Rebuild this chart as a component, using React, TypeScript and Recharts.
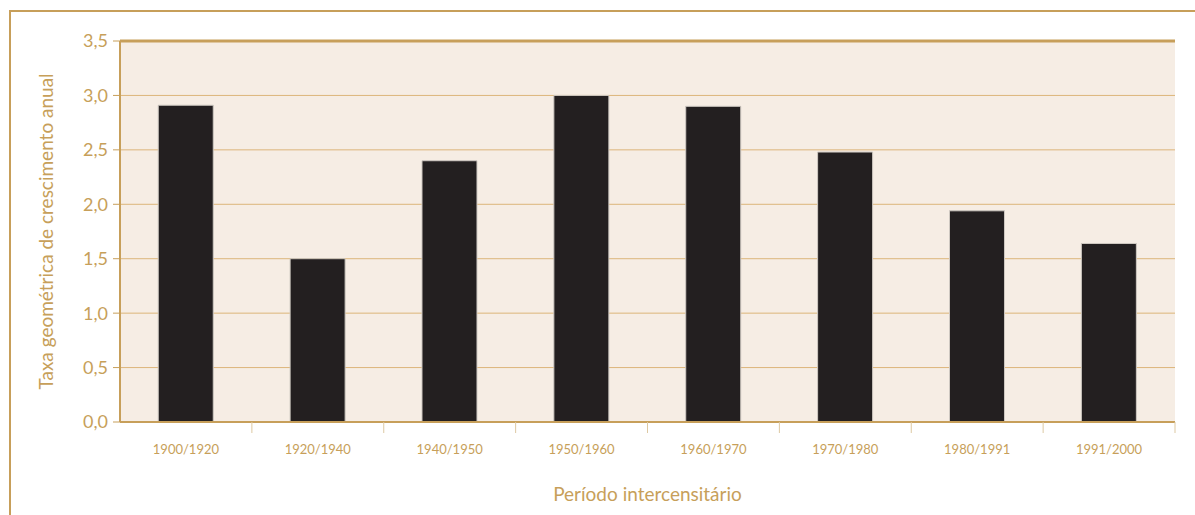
import { BarChart, Bar, XAxis, YAxis, CartesianGrid, ReferenceLine } from 'recharts'

const periods = ['1900/1920', '1920/1940', '1940/1950', '1950/1960', '1960/1970', '1970/1980', '1980/1991', '1991/2000']
const growthRates = [2.91, 1.5, 2.4, 3.0, 2.9, 2.48, 1.94, 1.64]
const yTicks = [0, 0.5, 1, 1.5, 2, 2.5, 3, 3.5]

const GOLD = '#c79f5a'
const GRID = '#dcb57a'
const FONT = 'Lato, "Open Sans", sans-serif'

const W = 1195
const H = 515
const PLOT_LEFT = 120
const PLOT_RIGHT = 20

const data = periods.map((p, i) => ({ period: p, rate: growthRates[i] }))

const fmt = (v: number) => v.toFixed(1).replace('.', ',')

// category label at the band centre, tick mark on the band boundary
function PeriodTick(props: any) {
  const { x, y, payload } = props
  const half = payload?.offset || (W - PLOT_LEFT - PLOT_RIGHT) / periods.length / 2
  return (
    <g>
      <line x1={x + half} x2={x + half} y1={y - 8} y2={y + 3} stroke="#ddc9a3" strokeWidth={1} />
      <text x={x} y={y + 24} textAnchor="middle" fill={GOLD} fontSize={13} fontFamily={FONT}>
        {payload.value}
      </text>
    </g>
  )
}

export default function App() {
  return (
    <div style={{ position: 'absolute', left: 0, top: 0, width: W, height: H, background: '#fff' }}>
      <div style={{ position: 'absolute', left: 10, top: 10, width: W - 10, height: 2, background: GOLD }} />
      <div style={{ position: 'absolute', left: 9, top: 10, width: 2, height: H - 10, background: GOLD }} />
      <div style={{ position: 'absolute', left: 0, top: 0 }}>
        <BarChart
          width={W}
          height={H}
          data={data}
          margin={{ top: 41, right: PLOT_RIGHT, bottom: 0, left: 0 }}
          barCategoryGap="29%"
        >
          <CartesianGrid vertical={false} stroke={GRID} fill="#f6ede4" />
          <XAxis
            dataKey="period"
            height={93}
            axisLine={{ stroke: GOLD, strokeWidth: 2 }}
            tickLine={false}
            tick={<PeriodTick />}
            interval={0}
            label={{
              value: 'Período intercensitário',
              position: 'insideBottom',
              offset: 14,
              fill: GOLD,
              fontSize: 19,
              fontFamily: FONT,
            }}
          />
          <YAxis
            width={PLOT_LEFT}
            domain={[0, 3.5]}
            ticks={yTicks}
            tickFormatter={fmt}
            axisLine={{ stroke: GOLD, strokeWidth: 2 }}
            tickLine={{ stroke: GOLD }}
            tickSize={7}
            tickMargin={5}
            tick={{ fill: GOLD, fontSize: 18, fontFamily: FONT }}
            label={{
              value: 'Taxa geométrica de crescimento  anual',
              angle: -90,
              position: 'insideLeft',
              offset: 46,
              fill: GOLD,
              fontSize: 19,
              fontFamily: FONT,
              style: { textAnchor: 'middle', whiteSpace: 'pre' },
            }}
          />
          <YAxis
            yAxisId="frame"
            orientation="right"
            width={0}
            domain={[0, 3.5]}
            tick={false}
            tickLine={false}
            axisLine={{ stroke: GOLD, strokeWidth: 3 }}
          />
          <ReferenceLine y={3.5} stroke={GOLD} strokeWidth={3} />
          <Bar dataKey="rate" fill="#231f20" stroke="#cfc9c2" strokeWidth={1} isAnimationActive={false} />
        </BarChart>
      </div>
    </div>
  )
}
